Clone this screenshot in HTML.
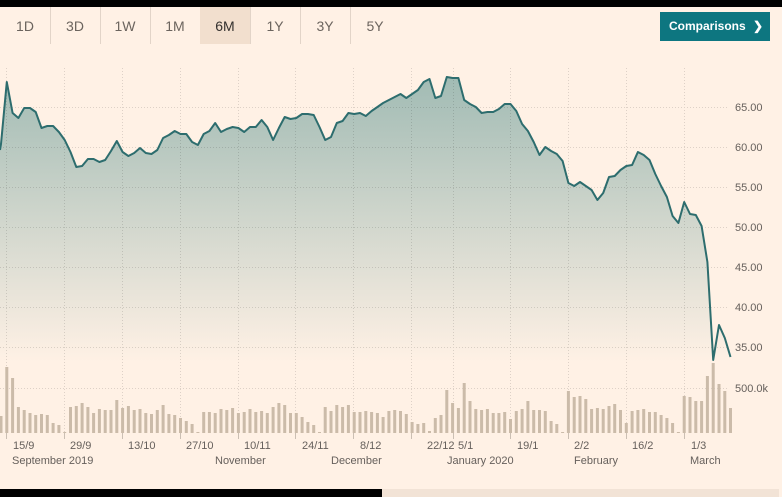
<!DOCTYPE html>
<html><head><meta charset="utf-8"><style>
html,body{margin:0;padding:0;background:#fff1e5;}
body{width:782px;height:497px;position:relative;overflow:hidden;font-family:"Liberation Sans",Arial,sans-serif;}
.topbar{position:absolute;left:0;top:0;width:782px;height:7px;background:#000;}
.btn{position:absolute;top:7px;width:50px;height:37px;line-height:38px;text-align:center;font-size:14px;color:#6b645e;}
.sep{position:absolute;top:7px;width:1px;height:37px;background:#e2d4c8;}
.sel{background:#f2dfce;color:#33302e;}
.cmp{position:absolute;left:660px;top:12px;width:110px;height:29px;background:#0d7680;color:#fff;font-weight:bold;font-size:12px;line-height:29px;}
.cmp span{position:absolute;left:9px;}
.cmp b{position:absolute;left:93px;top:0;font-size:12px;}
.botl{position:absolute;left:0;top:489px;width:382px;height:8px;background:#000;}
.botr{position:absolute;left:382px;top:489px;width:397px;height:8px;background:#f2e3d6;}
svg{position:absolute;left:0;top:0;}
</style></head><body>
<div class="topbar"></div>
<div class="btn" style="left:0">1D</div>
<div class="sep" style="left:50px"></div>
<div class="btn" style="left:50px">3D</div>
<div class="sep" style="left:100px"></div>
<div class="btn" style="left:100px">1W</div>
<div class="sep" style="left:150px"></div>
<div class="btn" style="left:150px">1M</div>
<div class="btn sel" style="left:200px">6M</div>
<div class="sep" style="left:250px"></div>
<div class="btn" style="left:250px">1Y</div>
<div class="sep" style="left:300px"></div>
<div class="btn" style="left:300px">3Y</div>
<div class="sep" style="left:350px"></div>
<div class="btn" style="left:350px">5Y</div>
<div class="cmp"><span>Comparisons</span><b>&#10095;</b></div>

<svg width="782" height="497" viewBox="0 0 782 497" xmlns="http://www.w3.org/2000/svg">
<defs>
<linearGradient id="g" gradientUnits="userSpaceOnUse" x1="0" y1="77" x2="0" y2="362">
<stop offset="0" stop-color="#a1bbb4"/>
<stop offset="1" stop-color="#fff1e5"/>
</linearGradient>
</defs>
<path fill="url(#g)" d="M0,433 L0,150 1.0,144 6.8,82 12.6,113 18.4,118 24.2,108 30.0,108 35.7,112 41.5,128 47.3,126 53.1,126 58.9,132 64.7,140 70.5,152 76.3,167 82.1,166 87.9,159 93.6,159 99.4,162 105.2,160 111.0,151 116.8,141 122.6,152 128.4,156 134.2,153 140.0,148 145.8,153 151.5,154 157.3,150 163.1,138 168.9,135 174.7,131 180.5,134 186.3,134 192.1,142 197.9,145 203.7,134 209.4,131 215.2,123 221.0,132 226.8,129 232.6,127 238.4,128 244.2,132 250.0,127 255.8,127 261.6,120 267.3,127 273.1,140 278.9,128 284.7,117 290.5,119 296.3,118 302.1,114 307.9,114 313.7,115 319.5,127 325.2,140 331.0,137 336.8,123 342.6,121 348.4,113 354.2,114 360.0,113 365.8,116 371.6,111 377.4,107 383.1,103 388.9,100 394.7,97 400.5,94 406.3,98 412.1,94 417.9,90 423.7,82 429.5,79 435.3,98 441.0,96 446.8,77 452.6,78 458.4,78 464.2,100 470.0,104 475.8,107 481.6,113 487.4,112 493.2,112 498.9,109 504.7,104 510.5,104 516.3,111 522.1,124 527.9,131 533.7,142 539.5,155 545.3,147 551.1,151 556.8,154 562.6,161 568.4,183 574.2,186 580.0,182 585.8,186 591.6,190 597.4,200 603.2,193 609.0,177 614.7,176 620.5,170 626.3,166 632.1,165 637.9,152 643.7,155 649.5,160 655.3,174 661.1,186 666.9,197 672.6,216 678.4,223 684.2,202 690.0,214 695.8,215 701.6,226 707.4,262 713.2,360 719.0,325 724.8,338 730.5,357 730.5,433 Z"/>

<path fill="none" stroke="#000" stroke-opacity="0.13" stroke-width="1" stroke-dasharray="1,2" d="M0 107.5H728M0 147.5H728M0 187.5H728M0 227.5H728M0 267.5H728M0 307.5H728M0 347.5H728M0 388.5H728M6.5 68V433M64.5 68V433M122.5 68V433M180.5 68V433M238.5 68V433M295.5 68V433M353.5 68V433M411.5 68V433M453.5 68V433M510.5 68V433M568.5 68V433M626.5 68V433M684.5 68V433"/>
<path fill="none" stroke="#cbbfb3" stroke-width="1" d="M6.5 433V439M64.5 433V439M122.5 433V439M180.5 433V439M238.5 433V439M295.5 433V439M353.5 433V439M411.5 433V439M453.5 433V439M510.5 433V439M568.5 433V439M626.5 433V439M684.5 433V439"/>

<polyline fill="none" stroke="#2d6d6e" stroke-width="2" stroke-linejoin="round" points="0,150 1.0,144 6.8,82 12.6,113 18.4,118 24.2,108 30.0,108 35.7,112 41.5,128 47.3,126 53.1,126 58.9,132 64.7,140 70.5,152 76.3,167 82.1,166 87.9,159 93.6,159 99.4,162 105.2,160 111.0,151 116.8,141 122.6,152 128.4,156 134.2,153 140.0,148 145.8,153 151.5,154 157.3,150 163.1,138 168.9,135 174.7,131 180.5,134 186.3,134 192.1,142 197.9,145 203.7,134 209.4,131 215.2,123 221.0,132 226.8,129 232.6,127 238.4,128 244.2,132 250.0,127 255.8,127 261.6,120 267.3,127 273.1,140 278.9,128 284.7,117 290.5,119 296.3,118 302.1,114 307.9,114 313.7,115 319.5,127 325.2,140 331.0,137 336.8,123 342.6,121 348.4,113 354.2,114 360.0,113 365.8,116 371.6,111 377.4,107 383.1,103 388.9,100 394.7,97 400.5,94 406.3,98 412.1,94 417.9,90 423.7,82 429.5,79 435.3,98 441.0,96 446.8,77 452.6,78 458.4,78 464.2,100 470.0,104 475.8,107 481.6,113 487.4,112 493.2,112 498.9,109 504.7,104 510.5,104 516.3,111 522.1,124 527.9,131 533.7,142 539.5,155 545.3,147 551.1,151 556.8,154 562.6,161 568.4,183 574.2,186 580.0,182 585.8,186 591.6,190 597.4,200 603.2,193 609.0,177 614.7,176 620.5,170 626.3,166 632.1,165 637.9,152 643.7,155 649.5,160 655.3,174 661.1,186 666.9,197 672.6,216 678.4,223 684.2,202 690.0,214 695.8,215 701.6,226 707.4,262 713.2,360 719.0,325 724.8,338 730.5,357"/>

<path fill="#cbbba9" d="M-0.5 433V416h3V433zM5.3 433V367h3V433zM11.1 433V378h3V433zM16.9 433V407h3V433zM22.7 433V410h3V433zM28.5 433V413h3V433zM34.2 433V415h3V433zM40.0 433V414h3V433zM45.8 433V415h3V433zM51.6 433V423h3V433zM57.4 433V425h3V433zM63.2 433V432h3V433zM69.0 433V407h3V433zM74.8 433V406h3V433zM80.6 433V403h3V433zM86.4 433V407h3V433zM92.1 433V413h3V433zM97.9 433V409h3V433zM103.7 433V410h3V433zM109.5 433V410h3V433zM115.3 433V400h3V433zM121.1 433V408h3V433zM126.9 433V406h3V433zM132.7 433V410h3V433zM138.5 433V409h3V433zM144.3 433V413h3V433zM150.0 433V414h3V433zM155.8 433V410h3V433zM161.6 433V405h3V433zM167.4 433V414h3V433zM173.2 433V415h3V433zM179.0 433V418h3V433zM184.8 433V421h3V433zM190.6 433V424h3V433zM196.4 433V432h3V433zM202.2 433V412h3V433zM207.9 433V412h3V433zM213.7 433V413h3V433zM219.5 433V409h3V433zM225.3 433V410h3V433zM231.1 433V408h3V433zM236.9 433V413h3V433zM242.7 433V412h3V433zM248.5 433V409h3V433zM254.3 433V412h3V433zM260.1 433V411h3V433zM265.8 433V413h3V433zM271.6 433V407h3V433zM277.4 433V403h3V433zM283.2 433V405h3V433zM289.0 433V413h3V433zM294.8 433V413h3V433zM300.6 433V417h3V433zM306.4 433V422h3V433zM312.2 433V425h3V433zM318.0 433V432h3V433zM323.7 433V407h3V433zM329.5 433V411h3V433zM335.3 433V405h3V433zM341.1 433V407h3V433zM346.9 433V405h3V433zM352.7 433V412h3V433zM358.5 433V412h3V433zM364.3 433V411h3V433zM370.1 433V412h3V433zM375.9 433V413h3V433zM381.6 433V417h3V433zM387.4 433V411h3V433zM393.2 433V410h3V433zM399.0 433V411h3V433zM404.8 433V414h3V433zM410.6 433V422h3V433zM416.4 433V424h3V433zM422.2 433V423h3V433zM428.0 433V431h3V433zM433.8 433V418h3V433zM439.5 433V415h3V433zM445.3 433V390h3V433zM451.1 433V403h3V433zM456.9 433V408h3V433zM462.7 433V383h3V433zM468.5 433V401h3V433zM474.3 433V409h3V433zM480.1 433V410h3V433zM485.9 433V409h3V433zM491.7 433V413h3V433zM497.4 433V413h3V433zM503.2 433V412h3V433zM509.0 433V419h3V433zM514.8 433V411h3V433zM520.6 433V409h3V433zM526.4 433V401h3V433zM532.2 433V410h3V433zM538.0 433V410h3V433zM543.8 433V411h3V433zM549.6 433V421h3V433zM555.3 433V424h3V433zM561.1 433V432h3V433zM566.9 433V391h3V433zM572.7 433V397h3V433zM578.5 433V396h3V433zM584.3 433V399h3V433zM590.1 433V409h3V433zM595.9 433V408h3V433zM601.7 433V409h3V433zM607.5 433V406h3V433zM613.2 433V404h3V433zM619.0 433V410h3V433zM624.8 433V423h3V433zM630.6 433V411h3V433zM636.4 433V410h3V433zM642.2 433V409h3V433zM648.0 433V412h3V433zM653.8 433V412h3V433zM659.6 433V415h3V433zM665.4 433V418h3V433zM671.1 433V423h3V433zM676.9 433V432h3V433zM682.7 433V396h3V433zM688.5 433V397h3V433zM694.3 433V401h3V433zM700.1 433V401h3V433zM705.9 433V376h3V433zM711.7 433V363h3V433zM717.5 433V384h3V433zM723.3 433V391h3V433zM729.0 433V408h3V433z"/>

<g font-family="Liberation Sans, Arial, sans-serif" font-size="11" fill="#66605c">
<text x="735" y="111">65.00</text>
<text x="735" y="151">60.00</text>
<text x="735" y="191">55.00</text>
<text x="735" y="231">50.00</text>
<text x="735" y="271">45.00</text>
<text x="735" y="311">40.00</text>
<text x="735" y="351">35.00</text>
<text x="735" y="392">500.0k</text>
<text x="13" y="449">15/9</text>
<text x="70" y="449">29/9</text>
<text x="128" y="449">13/10</text>
<text x="186" y="449">27/10</text>
<text x="244" y="449">10/11</text>
<text x="302" y="449">24/11</text>
<text x="360" y="449">8/12</text>
<text x="427" y="449">22/12</text>
<text x="458" y="449">5/1</text>
<text x="517" y="449">19/1</text>
<text x="574" y="449">2/2</text>
<text x="632" y="449">16/2</text>
<text x="691" y="449">1/3</text>
<text x="12" y="464">September 2019</text>
<text x="215" y="464">November</text>
<text x="331" y="464">December</text>
<text x="447" y="464">January 2020</text>
<text x="574" y="464">February</text>
<text x="690" y="464">March</text>
</g>
</svg>

<div class="botl"></div>
<div class="botr"></div>
</body></html>
